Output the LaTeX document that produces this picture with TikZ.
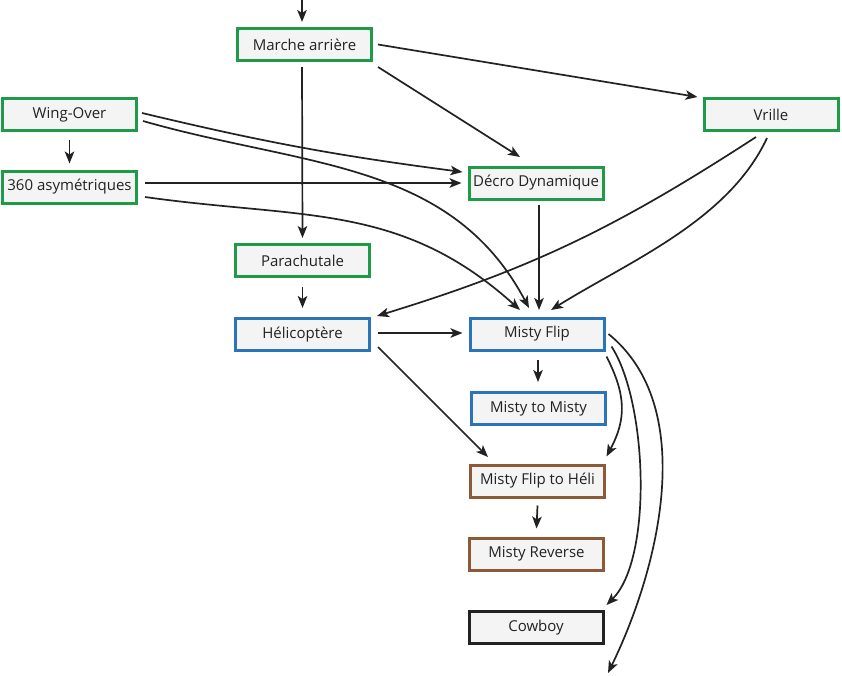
\documentclass[tikz,border=0pt]{standalone}
\usepackage{fontspec}
\setmainfont{Open Sans}
\usetikzlibrary{arrows.meta}
\definecolor{bgreen}{HTML}{1F9A48}
\definecolor{bblue}{HTML}{2B74B9}
\definecolor{bbrown}{HTML}{8C5A36}
\definecolor{bfill}{HTML}{F4F4F4}
\definecolor{ink}{HTML}{222222}
\tikzset{
  box/.style={rectangle, line width=3pt, fill=bfill, minimum width=134pt, minimum height=32pt, inner sep=2pt, text=ink, font=\fontsize{15}{17}\selectfont},
  gbox/.style={box, draw=bgreen},
  bbox/.style={box, draw=bblue},
  rbox/.style={box, draw=bbrown},
  kbox/.style={box, draw=ink},
  arr/.style={draw=ink, line width=1.7pt, -{Stealth[length=12pt,width=9.5pt,inset=3pt]}}
}
\begin{document}
\begin{tikzpicture}[x=1pt,y=1pt]
\useasboundingbox[fill=white] (0,-675) rectangle (842,0);
\node[gbox] (marche) at (304.5,-44.5) {Marche arrière};
\node[gbox] (wing) at (69.5,-114.5) {Wing-Over};
\node[gbox] (asym) at (69.5,-187) {360 asymétriques};
\node[gbox] (vrille) at (771,-114.5) {Vrille};
\node[gbox] (decro) at (536,-183) {Décro Dynamique};
\node[gbox] (para) at (302.5,-260.5) {Parachutale};
\node[bbox] (heli) at (302.5,-334.5) {Hélicoptère};
\node[bbox] (misty) at (537,-334) {Misty Flip};
\node[bbox] (mtm) at (538.5,-408.5) {Misty to Misty};
\node[rbox] (mfh) at (537.5,-481) {Misty Flip to Héli};
\node[rbox] (mr) at (536.5,-554) {Misty Reverse};
\node[kbox] (cowboy) at (536,-627.5) {Cowboy};
\coordinate (top) at (302,0);
\coordinate (exit) at (608,-673);

\draw[arr] (top) -- ([xshift=-2.5pt,yshift=5pt]marche.north);
\draw[arr] ([xshift=5pt]marche.east) -- ([xshift=-5pt]vrille.north west);
\draw[arr] ([xshift=5pt,yshift=-5pt]marche.south east) -- ([xshift=-16pt,yshift=8.5pt]decro.north);
\draw[arr] ([xshift=-2.5pt,yshift=-5pt]marche.south) -- ([yshift=5pt]para.north);
\draw[arr] ([yshift=-8pt]wing.south) -- ([yshift=6pt]asym.north);
\draw[arr] ([xshift=4pt,yshift=1.5pt]wing.east) to[bend right=3] ([xshift=-5pt,yshift=11pt]decro.west);
\draw[arr] ([xshift=5pt,yshift=-6.5pt]wing.east) to[out=-16,in=118] ([xshift=-8pt,yshift=8.5pt]misty.north);
\draw[arr] ([xshift=7pt,yshift=4pt]asym.east) -- ([xshift=-6pt]decro.west);
\draw[arr] ([xshift=7pt,yshift=-10pt]asym.east) to[out=-8,in=138,looseness=1.05] ([xshift=-17pt,yshift=6.5pt]misty.north);
\draw[arr] ([xshift=3pt,yshift=-4pt]decro.south) -- ([xshift=2pt,yshift=6.5pt]misty.north);
\draw[arr] ([xshift=-15pt,yshift=-5pt]vrille.south) to[out=213,in=17] ([xshift=6pt,yshift=1pt]heli.north east);
\draw[arr] ([xshift=-4pt,yshift=-6pt]vrille.south) to[out=-115,in=32,looseness=0.85] ([xshift=14pt,yshift=6.5pt]misty.north);
\draw[arr] ([yshift=-9pt]para.south) -- ([yshift=9pt]heli.north);
\draw[arr] ([xshift=7pt,yshift=1.5pt]heli.east) -- ([xshift=-6pt,yshift=1pt]misty.west);
\draw[arr] ([xshift=7pt,yshift=-12.5pt]heli.east) -- ([xshift=-49.5pt,yshift=6.5pt]mfh.north);
\draw[arr] ([xshift=1pt,yshift=-8pt]misty.south) -- ([xshift=-0.5pt,yshift=9pt]mtm.north);
\draw[arr] ([xshift=1pt,yshift=-5pt]misty.south east) to[out=-63,in=62,looseness=1.1] ([xshift=0.5pt,yshift=7pt]mfh.north east);
\draw[arr] ([xshift=6pt,yshift=5pt]misty.south east) to[out=-57,in=45,looseness=0.65] ([xshift=2pt,yshift=5pt]cowboy.north east);
\draw[arr] ([xshift=3pt]misty.east) to[out=-39,in=64,looseness=0.88] (exit);
\draw[arr] ([yshift=-7pt]mfh.south) -- ([yshift=8pt]mr.north);
\end{tikzpicture}
\end{document}
